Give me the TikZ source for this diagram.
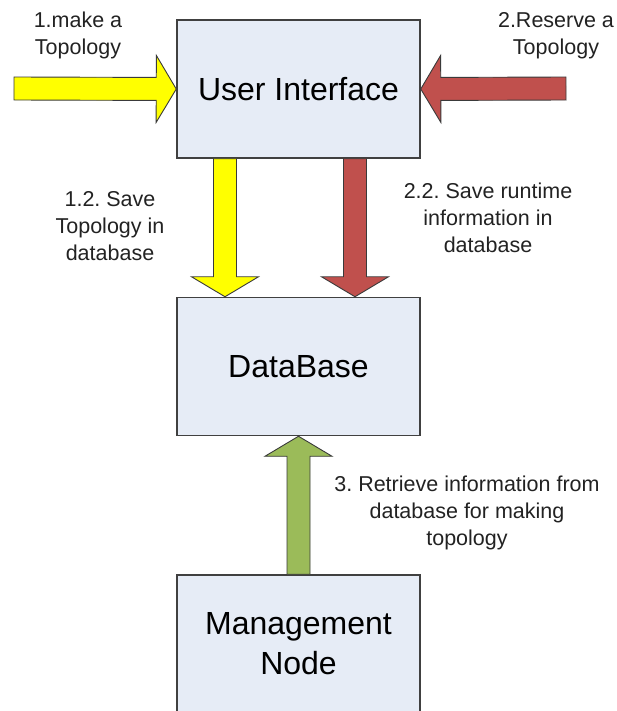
\documentclass[tikz,border=0pt]{standalone}
\usepackage{fontspec}
\setmainfont{Liberation Sans}
\usetikzlibrary{calc}
\frenchspacing

\definecolor{boxfill}{HTML}{E6ECF6}
\definecolor{boxline}{HTML}{404040}
\definecolor{arrowline}{HTML}{3A3A3A}
\definecolor{ayellow}{HTML}{FFFF00}
\definecolor{ared}{HTML}{C0504D}
\definecolor{agreen}{HTML}{9BBB59}
\definecolor{labeltext}{HTML}{222222}

\tikzset{
  box/.style={draw=boxline, line width=1.5pt, fill=boxfill,
    minimum width=243pt, minimum height=138pt, inner sep=0pt,
    align=center, text=black, font=\fontsize{32}{40}\selectfont},
  steplabel/.style={align=center, text=labeltext, inner sep=0pt,
    font=\fontsize{21.5}{27}\selectfont},
  % block arrow drawn as an outlined polygon from start to target
  fatarrow/.style={draw=arrowline, line width=0.9pt, line join=miter,
    to path={
      let \p1=(\tikztostart), \p2=(\tikztotarget),
          \n1={atan2(\y2-\y1,\x2-\x1)},
          \n2={veclen(\x2-\x1,\y2-\y1)} in
      ([shift={(\p1)},rotate=\n1]0pt,11.5pt)
      -- ([shift={(\p1)},rotate=\n1]{\n2-20pt},11.5pt)
      -- ([shift={(\p1)},rotate=\n1]{\n2-20pt},33.5pt)
      -- (\p2)
      -- ([shift={(\p1)},rotate=\n1]{\n2-20pt},-33.5pt)
      -- ([shift={(\p1)},rotate=\n1]{\n2-20pt},-11.5pt)
      -- ([shift={(\p1)},rotate=\n1]0pt,-11.5pt) -- cycle
    }}
}

\begin{document}
\begin{tikzpicture}[x=1pt, y=-1pt]
  \useasboundingbox (0,0) rectangle (617,711);
  \clip (0,0) rectangle (617,711);

  % boxes
  \node[box] (ui) at (298.5,89) {User Interface};
  \node[box] (db) at (298.5,366.5) {DataBase};
  \node[box] (mn) at (298.5,644) {Management\\Node};

  % outer end points of the incoming arrows
  \coordinate (make) at (14,88.5);
  \coordinate (reserve) at (566,88.5);

  % arrows
  \draw[fatarrow, fill=ayellow] (make) to (ui.west);
  \draw[fatarrow, fill=ared] (reserve) to (ui.east);
  \draw[fatarrow, fill=ayellow] ([xshift=-73.5pt]ui.south) to ([xshift=-73.5pt]db.north);
  \draw[fatarrow, fill=ared] ([xshift=56.5pt]ui.south) to ([xshift=56.5pt]db.north);
  \draw[fatarrow, fill=agreen] (mn.north) to (db.south);

  % labels
  \node[steplabel] (l1) at (78,35) {1.make a\\Topology};
  \node[steplabel] (l2) at (556,36) {2.Reserve a\\Topology};
  \node[steplabel] (l12) at (110,226) {1.2. Save\\Topology in\\database};
  \node[steplabel] (l22) at (488,218) {2.2. Save runtime\\information in\\database};
  \node[steplabel] (l3) at (467,513) {3. Retrieve information from\\database for making\\topology};
\end{tikzpicture}
\end{document}
